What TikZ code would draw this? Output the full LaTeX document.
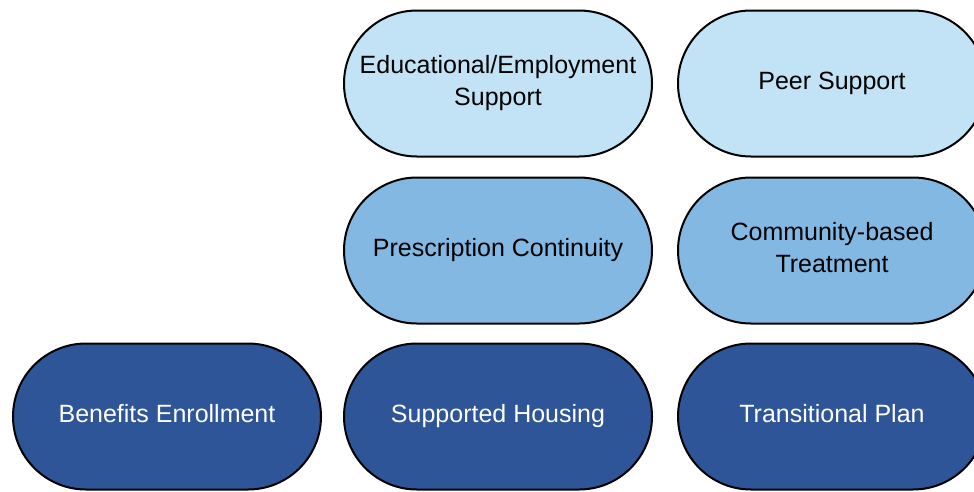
\documentclass[tikz,border=0pt]{standalone}
\usepackage{fontspec}
\setmainfont{Liberation Sans}
\definecolor{darkb}{HTML}{2E5597}
\definecolor{midb}{HTML}{83B8E2}
\definecolor{lightb}{HTML}{C2E3F6}
\begin{document}
\begin{tikzpicture}[x=1pt,y=-1pt,
  pill/.style={draw=black, line width=2pt, rounded corners=73pt, minimum width=308pt, minimum height=146pt, inner sep=0pt, align=center, font=\fontsize{25}{32}\selectfont},
  darkpill/.style={pill, fill=darkb, text=white},
  midpill/.style={pill, fill=midb, text=black},
  lightpill/.style={pill, fill=lightb, text=black},
  oneline/.style={text height=18pt, text depth=5.3pt}]
\clip (0,0) rectangle (974,491);
\useasboundingbox (0,0) rectangle (974,491);
\fill[white] (0,0) rectangle (974,491);
\node[lightpill] (edu) at (498,83.5) {Educational/Employment\\Support};
\node[lightpill, oneline] (peer) at (832,83.5) {Peer Support};
\node[midpill, oneline] (rx) at (498,250.5) {Prescription Continuity};
\node[midpill] (comm) at (832,250.5) {Community-based\\Treatment\vphantom{y}};
\node[darkpill, oneline] (ben) at (167,416.5) {Benefits Enrollment};
\node[darkpill, oneline] (house) at (498,416.5) {Supported Housing};
\node[darkpill, oneline] (trans) at (832,416.5) {Transitional Plan};
\end{tikzpicture}
\end{document}
